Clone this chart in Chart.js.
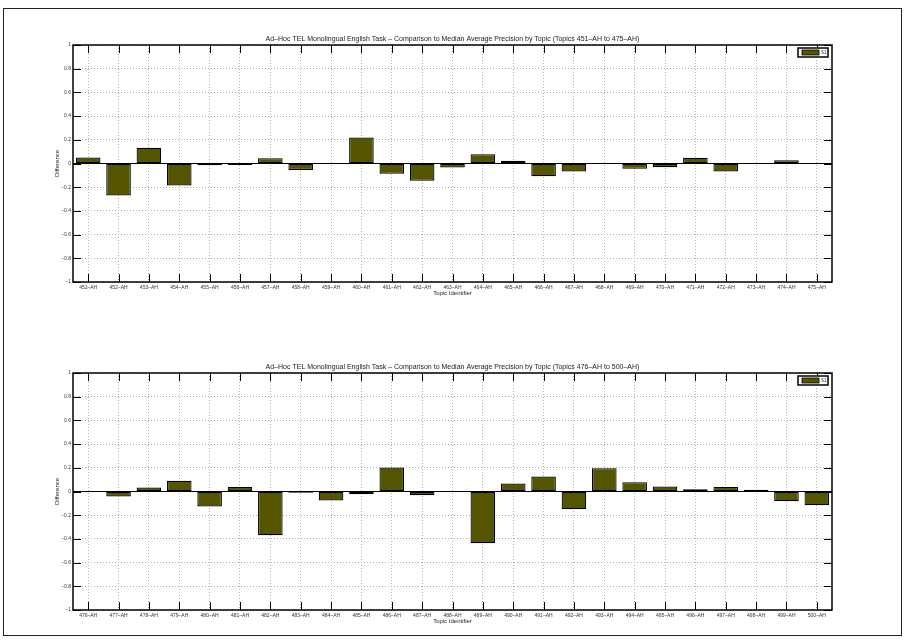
<!DOCTYPE html>
<html>
<head>
<meta charset="utf-8">
<script src="https://cdn.jsdelivr.net/npm/chart.js@4/dist/chart.umd.min.js"></script>
<style>
  body { margin: 0; background: #fff; }
  #page { position: relative; width: 906px; height: 642px; overflow: hidden; }
  canvas { position: absolute; left: 0; }
  #c1 { top: 0; }
  #c2 { top: 328px; }
  #frame { position: absolute; left: 3px; top: 8px; width: 897px; height: 626px; border: 1px solid #222; pointer-events: none; }
</style>
</head>
<body>
<div id="page">
  <canvas id="c1" width="906" height="310"></canvas>
  <canvas id="c2" width="906" height="310"></canvas>
  <div id="frame"></div>
</div>
<script>
// Topics and differences to median AP
var topics1 = ["451–AH", "452–AH", "453–AH", "454–AH", "455–AH", "456–AH", "457–AH", "458–AH", "459–AH", "460–AH",
  "461–AH", "462–AH", "463–AH", "464–AH", "465–AH", "466–AH", "467–AH", "468–AH", "469–AH", "470–AH",
  "471–AH", "472–AH", "473–AH", "474–AH", "475–AH"];
var values1 = [0.05, -0.27, 0.132, -0.186, -0.014, -0.012, 0.045, -0.054, 0.002, 0.22,
  -0.087, -0.146, -0.034, 0.079, 0.023, -0.107, -0.068, -0.005, -0.045, -0.031,
  0.048, -0.068, -0.002, 0.028, -0.003];

var topics2 = ["476–AH", "477–AH", "478–AH", "479–AH", "480–AH", "481–AH", "482–AH", "483–AH", "484–AH", "485–AH",
  "486–AH", "487–AH", "488–AH", "489–AH", "490–AH", "491–AH", "492–AH", "493–AH", "494–AH", "495–AH",
  "496–AH", "497–AH", "498–AH", "499–AH", "500–AH"];
var values2 = [-0.003, -0.042, 0.034, 0.09, -0.127, 0.039, -0.369, -0.011, -0.075, -0.023,
  0.203, -0.031, 0.002, -0.437, 0.068, 0.127, -0.149, 0.197, 0.079, 0.042,
  0.02, 0.039, 0.014, -0.082, -0.115];

var yTickLabels = ["−1", "−0.8", "−0.6", "−0.4", "−0.2", "0", "0.2", "0.4", "0.6", "0.8", "1"];
var seriesName = "S1";
var title1 = "Ad–Hoc TEL Monolingual English Task – Comparison to Median Average Precision by Topic (Topics 451–AH to 475–AH)";
var title2 = "Ad–Hoc TEL Monolingual English Task – Comparison to Median Average Precision by Topic (Topics 476–AH to 500–AH)";

var barColor = "#555500";
var fontFamily = "'Liberation Sans', Arial, sans-serif";

// frame, inward tick marks, zero baseline and legend box (matlab look)
var matlabPlugin = {
  id: "matlab",
  beforeDatasetsDraw: function (chart) {
    var ctx = chart.ctx;
    var a = chart.chartArea;
    var y0 = chart.scales.y.getPixelForValue(0);
    ctx.save();
    ctx.strokeStyle = "#000";
    ctx.lineWidth = 1.2;
    ctx.beginPath();
    ctx.moveTo(a.left, y0);
    ctx.lineTo(a.right, y0);
    ctx.stroke();
    ctx.restore();
  },
  afterDraw: function (chart) {
    var ctx = chart.ctx;
    var a = chart.chartArea;
    var xs = chart.scales.x;
    var ys = chart.scales.y;
    var tl = 8;
    ctx.save();
    ctx.strokeStyle = "#000";
    ctx.lineWidth = 1.5;
    ctx.strokeRect(a.left, a.top, a.right - a.left, a.bottom - a.top);

    ctx.lineWidth = 1;
    ctx.beginPath();
    for (var i = 0; i < xs.ticks.length; i++) {
      var x = Math.round(xs.getPixelForTick(i)) + 0.5;
      ctx.moveTo(x, a.top);
      ctx.lineTo(x, a.top + tl);
      ctx.moveTo(x, a.bottom);
      ctx.lineTo(x, a.bottom - tl);
    }
    for (var j = 0; j < ys.ticks.length; j++) {
      var y = Math.round(ys.getPixelForTick(j)) + 0.5;
      ctx.moveTo(a.left, y);
      ctx.lineTo(a.left + tl, y);
      ctx.moveTo(a.right, y);
      ctx.lineTo(a.right - tl, y);
    }
    ctx.stroke();

    // legend in the top right corner
    var bw = 30, bh = 9;
    var bx = a.right - 4 - bw, by = a.top + 3;
    ctx.fillStyle = "#fff";
    ctx.fillRect(bx, by, bw, bh);
    ctx.lineWidth = 1.5;
    ctx.strokeRect(bx, by, bw, bh);
    ctx.fillStyle = barColor;
    ctx.fillRect(bx + 4, by + 2, 17, 5);
    ctx.lineWidth = 0.8;
    ctx.strokeRect(bx + 4, by + 2, 17, 5);
    ctx.fillStyle = "#222";
    ctx.font = "4.5px " + fontFamily;
    ctx.textBaseline = "middle";
    ctx.fillText(chart.data.datasets[0].label, bx + 23, by + bh / 2);
    ctx.restore();
  }
};

function makeChart(id, labels, values, titleText) {
  var ctx = document.getElementById(id).getContext("2d");
  return new Chart(ctx, {
    type: "bar",
    data: {
      labels: labels,
      datasets: [
        {
          label: seriesName,
          data: values,
          backgroundColor: barColor,
          borderColor: "#000",
          borderWidth: 1.2,
          borderSkipped: false,
          barPercentage: 0.81,
          categoryPercentage: 1
        }
      ]
    },
    options: {
      responsive: false,
      animation: false,
      devicePixelRatio: 1,
      layout: { padding: { left: 54, right: 74, top: 34.6, bottom: 13 } },
      plugins: {
        legend: { display: false },
        tooltip: { enabled: false },
        title: {
          display: true,
          text: titleText,
          fullSize: false,
          color: "#222",
          font: { family: fontFamily, size: 7, weight: "normal" },
          padding: { top: 0, bottom: 2 }
        }
      },
      scales: {
        x: {
          offset: true,
          grid: { offset: false, color: "#9a9a9a", lineWidth: 0.8, drawTicks: false },
          border: { display: false, dash: [1, 2] },
          ticks: { color: "#333", font: { family: fontFamily, size: 5 }, padding: 3, maxRotation: 0, autoSkip: false },
          title: { display: true, text: "Topic Identifier", color: "#222", font: { family: fontFamily, size: 6 }, padding: 0 },
          afterFit: function (scale) { scale.height = 15; }
        },
        y: {
          min: -1,
          max: 1,
          grid: { color: "#9a9a9a", lineWidth: 0.8, drawTicks: false },
          border: { display: false, dash: [1, 2] },
          ticks: {
            stepSize: 0.2,
            color: "#333",
            font: { family: fontFamily, size: 5 },
            padding: 2,
            callback: function (value, index) { return yTickLabels[index]; }
          },
          title: { display: true, text: "Difference", color: "#222", font: { family: fontFamily, size: 6 }, padding: 0 },
          afterFit: function (scale) { scale.width = 19; }
        }
      }
    },
    plugins: [matlabPlugin]
  });
}

makeChart("c1", topics1, values1, title1);
makeChart("c2", topics2, values2, title2);
</script>
</body>
</html>
